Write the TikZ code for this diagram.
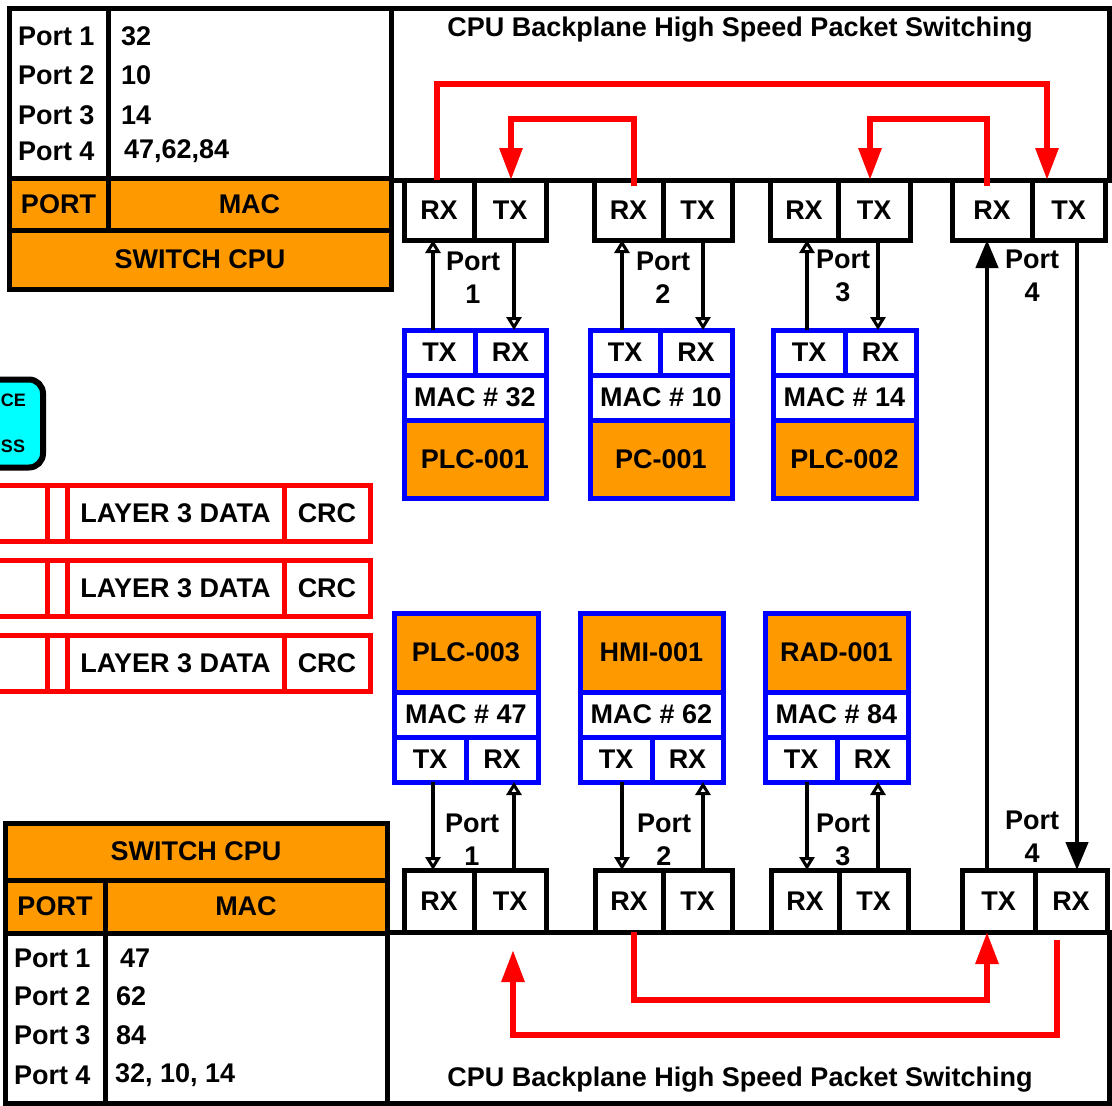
\documentclass[tikz,border=0pt]{standalone}
\usepackage{fontspec}
\setmainfont{Liberation Sans}
\usetikzlibrary{arrows.meta}
\definecolor{orng}{HTML}{FF9900}
\definecolor{cyn}{HTML}{00FFFF}
\newcommand\lbl{\fontsize{27}{33}\selectfont\bfseries}
\newcommand\sml{\fontsize{18}{22}\selectfont\bfseries}
\begin{document}
\begin{tikzpicture}[x=1pt,y=-1pt,
  base/.style={inner sep=0pt, outer sep=0pt, font=\lbl},
  bcell/.style={base, draw=black, line width=5pt, fill=white},
  ocell/.style={base, draw=black, line width=5pt, fill=orng},
  ucell/.style={base, draw=blue, line width=5pt, fill=white},
  uocell/.style={base, draw=blue, line width=5pt, fill=orng},
  rcell/.style={base, draw=red, line width=5pt, fill=white},
  sz/.style 2 args={minimum width=#1pt, minimum height=#2pt},
  txt/.style={base, anchor=west},
  plabel/.style={base, align=center},
  parrow/.style={line width=4.5pt, -{Triangle[open,length=13pt,width=15pt,line width=3pt]}},
  barrow/.style={line width=4.5pt, -{Triangle[length=28pt,width=22pt]}},
  rarrow/.style={draw=red, line width=6pt, line join=miter, -{Triangle[length=32pt,width=22pt]}}
]
\useasboundingbox (0,0) rectangle (1112,1106);
\fill[white] (0,0) rectangle (1112,1106);

% ---------- backplanes ----------
\node[bcell, sz={718}{172}] (bpt) at (750,94) {};
\node[base] (bptt) at (740,30) {CPU Backplane High Speed Packet Switching};
\node[bcell, sz={722}{171}] (bpb) at (748,1017.5) {};
\node[base] (bpbt) at (740,1080) {CPU Backplane High Speed Packet Switching};

% ---------- top-left table ----------
\node[bcell, sz={99}{170}] (tpc) at (58.5,93) {};
\node[bcell, sz={283}{170}] (tmc) at (249.5,93) {};
\node[ocell, sz={99}{52}] (tph) at (58.5,204) {PORT};
\node[ocell, sz={283}{52}] (tmh) at (249.5,204) {MAC};
\node[ocell, sz={382}{59}] (tcpu) at (200,259.5) {SWITCH CPU};
\node[txt] (tp1) at (18,36) {Port 1};
\node[txt] (tp2) at (18,75) {Port 2};
\node[txt] (tp3) at (18,115) {Port 3};
\node[txt] (tp4) at (18,151) {Port 4};
\node[txt] (tv1) at (121,36) {32};
\node[txt] (tv2) at (121,75) {10};
\node[txt] (tv3) at (121,115) {14};
\node[txt] (tv4) at (124,151) {47,62,84};

% ---------- bottom-left table ----------
\node[ocell, sz={382}{57}] (bcpu) at (196,851.5) {SWITCH CPU};
\node[ocell, sz={100}{53}] (bph) at (55,906.5) {PORT};
\node[ocell, sz={282}{53}] (bmh) at (246,906.5) {MAC};
\node[bcell, sz={100}{170}] (bpc) at (55,1018) {};
\node[bcell, sz={282}{170}] (bmc) at (246,1018) {};
\node[txt] (bp1) at (14,958) {Port 1};
\node[txt] (bp2) at (14,996) {Port 2};
\node[txt] (bp3) at (14,1035) {Port 3};
\node[txt] (bp4) at (14,1075) {Port 4};
\node[txt] (bv1) at (120,958) {47};
\node[txt] (bv2) at (116,996) {62};
\node[txt] (bv3) at (116,1035) {84};
\node[txt] (bv4) at (115,1075) {32, 10, 14};

% ---------- cyan box ----------
\node[draw=black, line width=6pt, fill=cyn, rounded corners=14pt, inner sep=0pt, sz={85}{88}] (cy) at (0.5,423.5) {};
\node[base, font=\sml, anchor=west] (cy1) at (1,400) {CE};
\node[base, font=\sml, anchor=west] (cy2) at (1,446) {SS};

% ---------- red frames ----------
\foreach \i/\y in {1/513,2/588.5,3/663.5}{
  \node[rcell, sz={67}{56}] (f\i a) at (13.5,\y) {};
  \node[rcell, sz={20}{56}] (f\i b) at (57,\y) {};
  \node[rcell, sz={217}{56}] (f\i c) at (175.5,\y) {LAYER 3 DATA};
  \node[rcell, sz={86}{56}] (f\i d) at (327,\y) {CRC};
}

% ---------- top ports ----------
\node[bcell, sz={70}{60}] (t1rx) at (439,210) {RX};
\node[bcell, sz={72}{60}] (t1tx) at (510,210) {TX};
\node[bcell, sz={69}{60}] (t2rx) at (628.5,210) {RX};
\node[bcell, sz={69}{60}] (t2tx) at (697.5,210) {TX};
\node[bcell, sz={68}{60}] (t3rx) at (804,210) {RX};
\node[bcell, sz={72}{60}] (t3tx) at (874,210) {TX};
\node[bcell, sz={80}{60}] (t4rx) at (992,210) {RX};
\node[bcell, sz={73}{60}] (t4tx) at (1068.5,210) {TX};

% ---------- bottom ports ----------
\node[bcell, sz={70}{62}] (b1rx) at (439,901) {RX};
\node[bcell, sz={72}{62}] (b1tx) at (510,901) {TX};
\node[bcell, sz={68}{62}] (b2rx) at (629,901) {RX};
\node[bcell, sz={69}{62}] (b2tx) at (697.5,901) {TX};
\node[bcell, sz={68}{62}] (b3rx) at (805,901) {RX};
\node[bcell, sz={69}{62}] (b3tx) at (873.5,901) {TX};
\node[bcell, sz={73}{62}] (b4tx) at (998.5,901) {TX};
\node[bcell, sz={72}{62}] (b4rx) at (1071,901) {RX};

% ---------- top devices ----------
\node[ucell, sz={71}{45}] (d1tx) at (439.5,352.5) {TX};
\node[ucell, sz={71}{45}] (d1rx) at (510.5,352.5) {RX};
\node[ucell, sz={142}{45}] (d1mac) at (475,397.5) {MAC \# 32};
\node[uocell, sz={142}{78}] (d1nm) at (475,459) {PLC-001};

\node[ucell, sz={70}{45}] (d2tx) at (625,352.5) {TX};
\node[ucell, sz={72}{45}] (d2rx) at (696,352.5) {RX};
\node[ucell, sz={142}{45}] (d2mac) at (661,397.5) {MAC \# 10};
\node[uocell, sz={142}{78}] (d2nm) at (661,459) {PC-001};

\node[ucell, sz={72}{45}] (d3tx) at (809,352.5) {TX};
\node[ucell, sz={71}{45}] (d3rx) at (880.5,352.5) {RX};
\node[ucell, sz={143}{45}] (d3mac) at (844.5,397.5) {MAC \# 14};
\node[uocell, sz={143}{78}] (d3nm) at (844.5,459) {PLC-002};

% ---------- bottom devices ----------
\node[uocell, sz={144}{79}] (d4nm) at (466,652.5) {PLC-003};
\node[ucell, sz={144}{45}] (d4mac) at (466,714.5) {MAC \# 47};
\node[ucell, sz={72}{45}] (d4tx) at (430,759.5) {TX};
\node[ucell, sz={72}{45}] (d4rx) at (502,759.5) {RX};

\node[uocell, sz={143}{79}] (d5nm) at (651.5,652.5) {HMI-001};
\node[ucell, sz={143}{45}] (d5mac) at (651.5,714.5) {MAC \# 62};
\node[ucell, sz={72}{45}] (d5tx) at (616,759.5) {TX};
\node[ucell, sz={71}{45}] (d5rx) at (687.5,759.5) {RX};

\node[uocell, sz={143}{79}] (d6nm) at (836.5,652.5) {RAD-001};
\node[ucell, sz={143}{45}] (d6mac) at (836.5,714.5) {MAC \# 84};
\node[ucell, sz={72}{45}] (d6tx) at (801,759.5) {TX};
\node[ucell, sz={71}{45}] (d6rx) at (872.5,759.5) {RX};

% ---------- port labels ----------
\node[plabel] (lt1) at (473,277.5) {Port\\1};
\node[plabel] (lt2) at (663,278) {Port\\2};
\node[plabel] (lt3) at (843,275.5) {Port\\3};
\node[plabel] (lt4) at (1032,275.5) {Port\\4};
\node[plabel] (lb1) at (472,839.5) {Port\\1};
\node[plabel] (lb2) at (664,839.5) {Port\\2};
\node[plabel] (lb3) at (843,839.5) {Port\\3};
\node[plabel] (lb4) at (1032,836.5) {Port\\4};

% ---------- arrow columns ----------
\coordinate (c1u) at (433,0);
\coordinate (c1d) at (514,0);
\coordinate (c2u) at (622,0);
\coordinate (c2d) at (703,0);
\coordinate (c3u) at (807,0);
\coordinate (c3d) at (878,0);
\coordinate (c4u) at (987,0);
\coordinate (c4d) at (1077,0);

% top links
\draw[parrow] (d1tx.north -| c1u) -- (t1rx.south -| c1u);
\draw[parrow] (t1tx.south -| c1d) -- (d1rx.north -| c1d);
\draw[parrow] (d2tx.north -| c2u) -- (t2rx.south -| c2u);
\draw[parrow] (t2tx.south -| c2d) -- (d2rx.north -| c2d);
\draw[parrow] (d3tx.north -| c3u) -- (t3rx.south -| c3u);
\draw[parrow] (t3tx.south -| c3d) -- (d3rx.north -| c3d);
% bottom links
\draw[parrow] (d4tx.south -| c1u) -- (b1rx.north -| c1u);
\draw[parrow] (b1tx.north -| c1d) -- (d4rx.south -| c1d);
\draw[parrow] (d5tx.south -| c2u) -- (b2rx.north -| c2u);
\draw[parrow] (b2tx.north -| c2d) -- (d5rx.south -| c2d);
\draw[parrow] (d6tx.south -| c3u) -- (b3rx.north -| c3u);
\draw[parrow] (b3tx.north -| c3d) -- (d6rx.south -| c3d);
% trunk port 4
\draw[barrow] (b4tx.north -| c4u) -- (t4rx.south -| c4u);
\draw[barrow] (t4tx.south -| c4d) -- (b4rx.north -| c4d);

% ---------- red switching paths, top ----------
\coordinate (ra) at (437,84);
\coordinate (rb) at (1047,84);
\draw[rarrow] (t1rx.north -| ra) -- (ra) -- (rb) -- (t4tx.north -| rb);
\coordinate (rc) at (634,119);
\coordinate (rd) at (511,119);
\draw[rarrow] ([yshift=-6pt]t2rx.north -| rc) -- (rc) -- (rd) -- (t1tx.north -| rd);
\coordinate (re) at (987,119);
\coordinate (rf) at (870,119);
\draw[rarrow] ([yshift=-6pt]t4rx.north -| re) -- (re) -- (rf) -- (t3tx.north -| rf);

% ---------- red switching paths, bottom ----------
\coordinate (rg) at (634,1000);
\coordinate (rh) at (987,1000);
\draw[rarrow] (b2rx.south -| rg) -- (rg) -- (rh) -- (b4tx.south -| rh);
\coordinate (ri0) at (1057,940);
\coordinate (ri) at (1057,1035);
\coordinate (rj) at (513,1035);
\coordinate (rj0) at (513,950);
\draw[rarrow] (ri0) -- (ri) -- (rj) -- (rj0);
\end{tikzpicture}
\end{document}
